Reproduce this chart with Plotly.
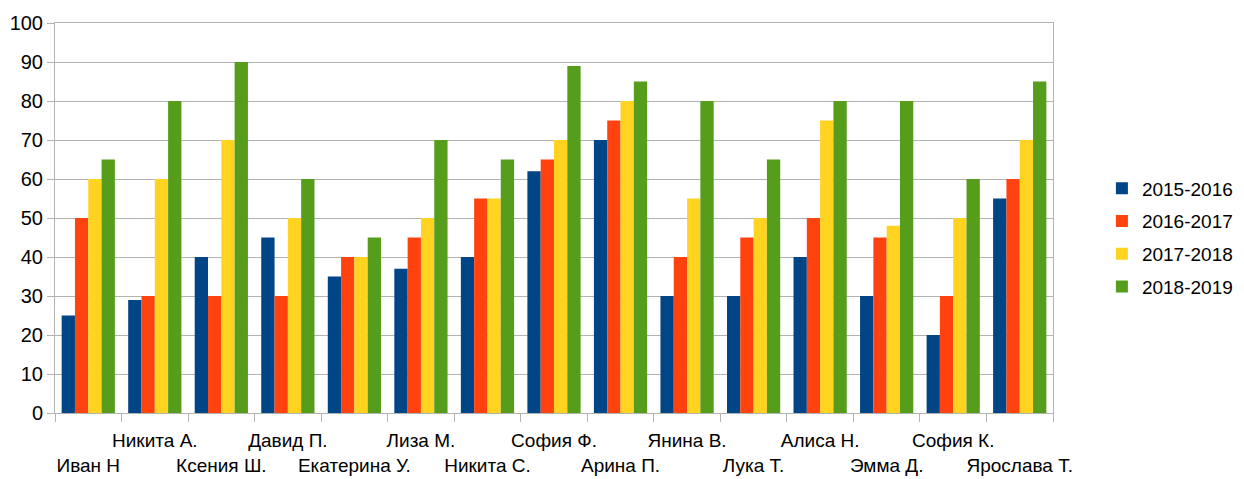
import plotly.graph_objects as go

students = [
    "Иван Н", "Никита А.", "Ксения Ш.", "Давид П.", "Екатерина У.",
    "Лиза М.", "Никита С.", "София Ф.", "Арина П.", "Янина В.",
    "Лука Т.", "Алиса Н.", "Эмма Д.", "София К.", "Ярослава Т.",
]
y2015 = [25, 29, 40, 45, 35, 37, 40, 62, 70, 30, 30, 40, 30, 20, 55]
y2016 = [50, 30, 30, 30, 40, 45, 55, 65, 75, 40, 45, 50, 45, 30, 60]
y2017 = [60, 60, 70, 50, 40, 50, 55, 70, 80, 55, 50, 75, 48, 50, 70]
y2018 = [65, 80, 90, 60, 45, 70, 65, 89, 85, 80, 65, 80, 80, 60, 85]

series = [
    ("2015-2016", y2015, "#004586"),
    ("2016-2017", y2016, "#ff420e"),
    ("2017-2018", y2017, "#ffd320"),
    ("2018-2019", y2018, "#579d1c"),
]

# staggered category labels: even index on the lower row
tick_text = [("<br>" + s) if i % 2 == 0 else s for i, s in enumerate(students)]

fig = go.Figure()
for name, vals, color in series:
    fig.add_trace(go.Bar(x=students, y=vals, name=name, marker_color=color,
                         marker_line_width=0, legendgroup=name))

# the page body adds an 8px offset, so margins are trimmed by that much
fig.update_layout(
    width=1244, height=479,
    barmode="group", bargap=0.2, bargroupgap=0,
    plot_bgcolor="white", paper_bgcolor="white",
    font=dict(family="Liberation Sans, Arial, sans-serif", size=19, color="#000"),
    margin=dict(l=47, r=199, t=15, b=74),
    legend=dict(x=1.049, y=0.45, xanchor="left", yanchor="middle",
                font=dict(size=19), tracegroupgap=5, itemwidth=30),
)
fig.update_xaxes(
    tickmode="array", tickvals=students, ticktext=tick_text, tickangle=0,
    automargin=False, ticklabelstandoff=10,
    ticks="outside", tickson="boundaries", ticklen=8, tickcolor="#b3b3b3",
    showline=True, linecolor="#b3b3b3", mirror=True, showgrid=False,
    tickfont=dict(size=19),
)
fig.update_yaxes(
    range=[0, 100], dtick=10, ticks="outside", ticklen=7, tickcolor="#b3b3b3",
    automargin=False,
    showline=True, linecolor="#b3b3b3", mirror=True,
    showgrid=True, gridcolor="#b3b3b3", gridwidth=1, zeroline=False,
    tickfont=dict(size=20),
)

fig.write_html("out.html")
